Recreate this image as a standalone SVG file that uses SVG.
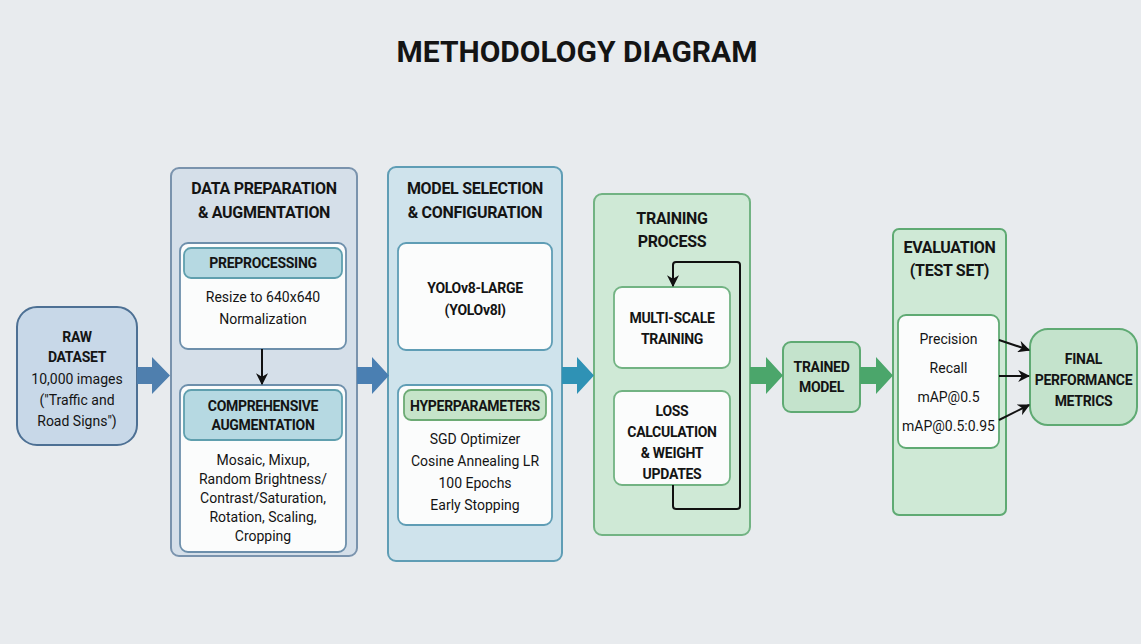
<svg xmlns="http://www.w3.org/2000/svg" width="1141" height="644" viewBox="0 0 1141 644">
<defs>
<marker id="ahs" viewBox="0 0 10 10" refX="9" refY="5" markerWidth="12" markerHeight="12" orient="auto" markerUnits="userSpaceOnUse">
<path d="M0,0 L10,5 L0,10 L3,5 z" fill="#111"/>
</marker>
</defs>
<style>
text{font-family:Roboto,"Liberation Sans",sans-serif;fill:#141414;text-anchor:middle}
.t{font-size:30px;font-weight:bold}
.h{font-size:16px;font-weight:bold;letter-spacing:-0.3px}
.s{font-size:14px;font-weight:bold;letter-spacing:-0.3px}
.r{font-size:14px}
.white{fill:#fbfcfc}
.ln{fill:none;stroke:#111;stroke-width:2}
</style>
<rect width="1141" height="644" fill="#e8ebee"/>
<text class="t" x="577" y="62">METHODOLOGY DIAGRAM</text>

<g id="raw">
<rect x="17" y="307" width="120" height="138" rx="20" fill="#c8d8e8" stroke="#4d7094" stroke-width="2"/>
<text class="s" x="77" y="342">RAW</text>
<text class="s" x="77" y="362">DATASET</text>
<text class="r" x="77" y="384">10,000 images</text>
<text class="r" x="77" y="405">("Traffic and</text>
<text class="r" x="77" y="426">Road Signs")</text>
</g>

<g id="dataprep">
<rect x="171" y="168" width="186" height="388" rx="8" fill="#d5dfe9" stroke="#7a93ad" stroke-width="2"/>
<text class="h" x="264" y="194">DATA PREPARATION</text>
<text class="h" x="264" y="218">&amp; AUGMENTATION</text>
</g>
<g id="preprocessing">
<rect x="180" y="243" width="166" height="106" rx="8" class="white" stroke="#6d8fab" stroke-width="1.8"/>
<rect x="184" y="248" width="158" height="30" rx="7" fill="#b6d9e2" stroke="#5f9fae" stroke-width="1.8"/>
<text class="s" x="263" y="268">PREPROCESSING</text>
<text class="r" x="263" y="302">Resize to 640x640</text>
<text class="r" x="263" y="324">Normalization</text>
</g>
<g id="augmentation">
<rect x="180" y="385" width="166" height="167" rx="8" class="white" stroke="#6d8fab" stroke-width="1.8"/>
<rect x="184" y="390" width="158" height="50" rx="7" fill="#b6d9e2" stroke="#5f9fae" stroke-width="1.8"/>
<text class="s" x="263" y="411">COMPREHENSIVE</text>
<text class="s" x="263" y="430">AUGMENTATION</text>
<text class="r" x="263" y="465">Mosaic, Mixup,</text>
<text class="r" x="263" y="484">Random Brightness/</text>
<text class="r" x="263" y="503">Contrast/Saturation,</text>
<text class="r" x="263" y="522">Rotation, Scaling,</text>
<text class="r" x="263" y="541">Cropping</text>
</g>

<g id="modelsel">
<rect x="388" y="167" width="174" height="394" rx="8" fill="#cfe3ec" stroke="#5f9db5" stroke-width="2"/>
<text class="h" x="475" y="194">MODEL SELECTION</text>
<text class="h" x="475" y="218">&amp; CONFIGURATION</text>
</g>
<g id="yolo">
<rect x="398" y="243" width="154" height="107" rx="8" class="white" stroke="#5f9db5" stroke-width="1.8"/>
<text class="s" x="475" y="293">YOLOv8-LARGE</text>
<text class="s" x="475" y="315">(YOLOv8l)</text>
</g>
<g id="hyper">
<rect x="398" y="385" width="154" height="140" rx="8" class="white" stroke="#5f9db5" stroke-width="1.8"/>
<rect x="404" y="390" width="142" height="30" rx="7" fill="#c6e4c9" stroke="#6caa74" stroke-width="1.8"/>
<text class="s" x="475" y="411">HYPERPARAMETERS</text>
<text class="r" x="475" y="444">SGD Optimizer</text>
<text class="r" x="475" y="466">Cosine Annealing LR</text>
<text class="r" x="475" y="488">100 Epochs</text>
<text class="r" x="475" y="510">Early Stopping</text>
</g>

<g id="training">
<rect x="594" y="194" width="156" height="341" rx="8" fill="#cfe9d6" stroke="#72b383" stroke-width="2"/>
<text class="h" x="672" y="224">TRAINING</text>
<text class="h" x="672" y="247">PROCESS</text>
</g>
<g id="multiscale">
<rect x="614" y="287" width="116" height="81" rx="8" class="white" stroke="#72b383" stroke-width="1.8"/>
<text class="s" x="672" y="323">MULTI-SCALE</text>
<text class="s" x="672" y="344">TRAINING</text>
</g>
<g id="loss">
<rect x="614" y="391" width="116" height="94" rx="8" class="white" stroke="#72b383" stroke-width="1.8"/>
<text class="s" x="672" y="416">LOSS</text>
<text class="s" x="672" y="437">CALCULATION</text>
<text class="s" x="672" y="458">&amp; WEIGHT</text>
<text class="s" x="672" y="479">UPDATES</text>
</g>

<g id="trained">
<rect x="783" y="342" width="77" height="70" rx="8" fill="#c4e3cc" stroke="#5faa73" stroke-width="2"/>
<text class="s" x="821.5" y="372">TRAINED</text>
<text class="s" x="821.5" y="392">MODEL</text>
</g>

<g id="evaluation">
<rect x="893" y="229" width="113" height="286" rx="6" fill="#cfe9d6" stroke="#5faa73" stroke-width="2"/>
<text class="h" x="949.5" y="253">EVALUATION</text>
<text class="h" x="949.5" y="276">(TEST SET)</text>
</g>
<g id="metrics">
<rect x="898" y="315" width="101" height="133" rx="8" class="white" stroke="#5faa73" stroke-width="1.8"/>
<text class="r" x="948.5" y="344">Precision</text>
<text class="r" x="948.5" y="373">Recall</text>
<text class="r" x="948.5" y="402">mAP@0.5</text>
<text class="r" x="948.5" y="431">mAP@0.5:0.95</text>
</g>

<g id="final">
<rect x="1030" y="329" width="107" height="96" rx="18" fill="#c4e3cc" stroke="#5faa73" stroke-width="2"/>
<text class="s" x="1083.5" y="364">FINAL</text>
<text class="s" x="1083.5" y="385">PERFORMANCE</text>
<text class="s" x="1083.5" y="406">METRICS</text>
</g>

<g id="connectors">
<polygon points="137,367 152,367 152,357 170,375.5 152,394 152,384 137,384" fill="#4f7fae"/>
<polygon points="357,367 372,367 372,357 389,375.5 372,394 372,384 357,384" fill="#4a7fb2"/>
<polygon points="562,367 577,367 577,357 594,375.5 577,394 577,384 562,384" fill="#2f92b5"/>
<polygon points="750,367 766,367 766,357 783,375.5 766,394 766,384 750,384" fill="#4ba66b"/>
<polygon points="860,367 876,367 876,357 893,375.5 876,394 876,384 860,384" fill="#4ba66b"/>
<line class="ln" x1="262" y1="349" x2="262" y2="384" marker-end="url(#ahs)"/>
<path class="ln" d="M673,485 V506 Q673,509 676,509 H737 Q740,509 740,506 V265 Q740,262 737,262 H676 Q673,262 673,265 V286" marker-end="url(#ahs)"/>
<line class="ln" x1="999" y1="340" x2="1029" y2="350" marker-end="url(#ahs)"/>
<line class="ln" x1="999" y1="376" x2="1029" y2="376" marker-end="url(#ahs)"/>
<line class="ln" x1="999" y1="420" x2="1029" y2="405" marker-end="url(#ahs)"/>
</g>
</svg>
